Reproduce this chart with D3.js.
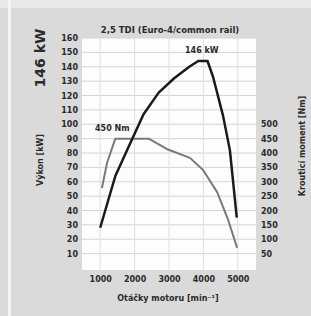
<!DOCTYPE html>
<html>
<head>
<meta charset="utf-8">
<script src="https://cdn.jsdelivr.net/npm/d3@7"></script>
<style>
  body { margin: 0; background: #dcdcdc; }
  svg { display: block; }
  text { font-family: "DejaVu Sans", sans-serif; fill: #2a2a2a; }
</style>
</head>
<body>
<svg id="chart" width="311" height="316"></svg>
<script>
// engine speed [min-1], power [kW], torque [Nm]
const powerRpm = [1000, 1440, 1820, 2260, 2700, 3150, 3590, 3850, 4120, 4280, 4570, 4770, 4970];
const powerKw = [28, 64, 84, 107, 122, 132, 140, 144, 144, 133, 106, 82, 35];
const torqueRpm = [1050, 1200, 1440, 2410, 2970, 3610, 3990, 4400, 4720, 4980];
const torqueNm = [278, 366, 450, 450, 412, 383, 341, 264, 167, 70];
const xTicks = [1000, 2000, 3000, 4000, 5000];
const kwTicks = [10, 20, 30, 40, 50, 60, 70, 80, 90, 100, 110, 120, 130, 140, 150, 160];
const nmTicks = [50, 100, 150, 200, 250, 300, 350, 400, 450, 500];

const svg = d3.select("#chart");

// background strips
svg.append("rect").attr("x", 0).attr("y", 0).attr("width", 311).attr("height", 316).attr("fill", "#dadada");
svg.append("rect").attr("x", 0).attr("y", 0).attr("width", 311).attr("height", 8).attr("fill", "#e9e9e9");
svg.append("rect").attr("x", 8).attr("y", 0).attr("width", 3).attr("height", 316).attr("fill", "#f4f4f4");

const x = d3.scaleLinear().domain([500, 5500]).range([83, 255]);
const yKw = d3.scaleLinear().domain([0, 160]).range([268, 38]);
const yNm = d3.scaleLinear().domain([0, 800]).range([268, 38]);

// plot area
svg.append("rect")
  .attr("x", 82).attr("y", 38)
  .attr("width", 174).attr("height", 232)
  .attr("fill", "#fdfdfd");

// grid
svg.append("g").selectAll("line").data(kwTicks).join("line")
  .attr("x1", 82).attr("x2", 256)
  .attr("y1", d => yKw(d)).attr("y2", d => yKw(d))
  .attr("stroke", "#d4d4d4").attr("stroke-width", 1);
svg.append("g").selectAll("line").data(xTicks).join("line")
  .attr("x1", d => x(d)).attr("x2", d => x(d))
  .attr("y1", 38).attr("y2", 270)
  .attr("stroke", "#e0e0e0").attr("stroke-width", 1);

// axes (labels only, no domain lines)
const leftAxis = svg.append("g").attr("transform", "translate(80,0)")
  .call(d3.axisLeft(yKw).tickValues(kwTicks).tickSize(0).tickPadding(2));
const rightAxis = svg.append("g").attr("transform", "translate(259,0)")
  .call(d3.axisRight(yNm).tickValues(nmTicks).tickSize(0).tickPadding(2));
const bottomAxis = svg.append("g").attr("transform", "translate(0,274)")
  .call(d3.axisBottom(x).tickValues(xTicks).tickSize(0).tickPadding(2).tickFormat(d3.format("d")));
[leftAxis, rightAxis, bottomAxis].forEach(a => {
  a.select(".domain").remove();
  a.selectAll("text").style("font-size", "8px").style("font-weight", "bold")
    .style("font-family", "DejaVu Sans, sans-serif").attr("fill", "#333");
});

// curves
const powerLine = d3.line().x(d => x(d[0])).y(d => yKw(d[1]));
const torqueLine = d3.line().x(d => x(d[0])).y(d => yNm(d[1]));

svg.append("path")
  .datum(torqueRpm.map((r, i) => [r, torqueNm[i]]))
  .attr("d", torqueLine)
  .attr("fill", "none").attr("stroke", "#7a7a7a").attr("stroke-width", 2)
  .attr("stroke-linejoin", "round");

svg.append("path")
  .datum(powerRpm.map((r, i) => [r, powerKw[i]]))
  .attr("d", powerLine)
  .attr("fill", "none").attr("stroke", "#1a1a1a").attr("stroke-width", 2.5)
  .attr("stroke-linejoin", "round");

// annotations
svg.append("text").attr("x", 95).attr("y", 131)
  .style("font-size", "8px").style("font-weight", "bold").text("450 Nm");
svg.append("text").attr("x", 185).attr("y", 53)
  .style("font-size", "8px").style("font-weight", "bold").text("146 kW");

// titles
svg.append("text").attr("x", 170).attr("y", 33).attr("text-anchor", "middle")
  .style("font-size", "8.5px").style("font-weight", "bold")
  .text("2,5 TDI (Euro-4/common rail)");

svg.append("text").attr("transform", "translate(45,58) rotate(-90)")
  .attr("text-anchor", "middle")
  .style("font-size", "14px").style("font-weight", "bold").attr("fill", "#222")
  .text("146 kW");

svg.append("text").attr("transform", "translate(43,160) rotate(-90)")
  .attr("text-anchor", "middle")
  .style("font-size", "8px").style("font-weight", "bold")
  .text("Výkon [kW]");

svg.append("text").attr("transform", "translate(305,146) rotate(-90)")
  .attr("text-anchor", "middle")
  .style("font-size", "8px").style("font-weight", "bold")
  .text("Krouticí moment [Nm]");

svg.append("text").attr("x", 168).attr("y", 301).attr("text-anchor", "middle")
  .style("font-size", "8px").style("font-weight", "bold")
  .text("Otáčky motoru [min⁻¹]");
</script>
</body>
</html>
